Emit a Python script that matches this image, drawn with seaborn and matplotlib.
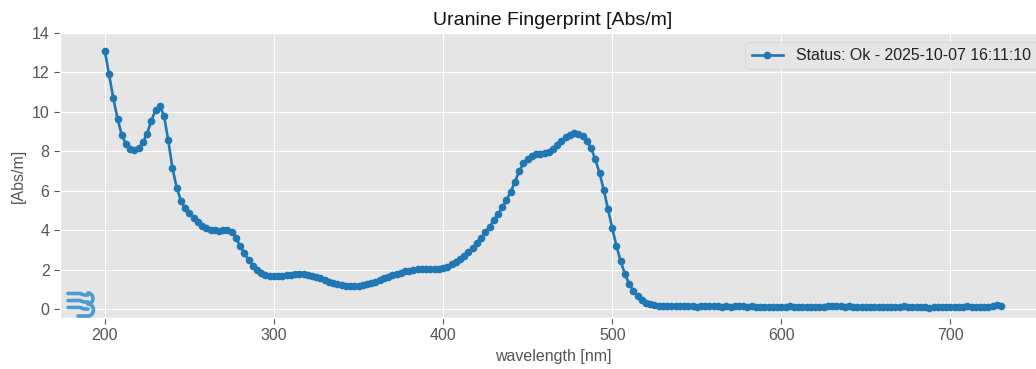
import numpy as np
import pandas as pd
import matplotlib
matplotlib.use("Agg")
import matplotlib.pyplot as plt
from matplotlib.lines import Line2D
import seaborn as sns

# ---- data ----
wl_start, wl_stop, wl_step = 200.0, 730.0, 2.5
wavelength = np.arange(wl_start, wl_stop + wl_step / 2, wl_step)

abs_200_272 = [13.1, 11.9, 10.7, 9.65, 8.85, 8.35, 8.1, 8.05, 8.15, 8.45,
               8.9, 9.55, 10.1, 10.3, 9.8, 8.55, 7.15, 6.15, 5.5, 5.1,
               4.85, 4.62, 4.42, 4.23, 4.1, 4.02, 3.98, 3.96, 3.98, 4.02]
abs_275_347 = [3.9, 3.6, 3.2, 2.82, 2.48, 2.2, 1.98, 1.82, 1.72, 1.68,
               1.66, 1.66, 1.67, 1.7, 1.73, 1.76, 1.77, 1.76, 1.73, 1.68,
               1.62, 1.55, 1.47, 1.39, 1.32, 1.26, 1.21, 1.18, 1.16, 1.16]
abs_350_422 = [1.18, 1.21, 1.26, 1.32, 1.39, 1.47, 1.55, 1.63, 1.7, 1.77,
               1.84, 1.9, 1.95, 1.99, 2.01, 2.02, 2.03, 2.04, 2.05, 2.05,
               2.07, 2.14, 2.27, 2.4, 2.53, 2.7, 2.88, 3.1, 3.36, 3.62]
abs_425_497 = [3.88, 4.17, 4.5, 4.82, 5.15, 5.52, 5.95, 6.45, 6.98, 7.38,
               7.62, 7.76, 7.84, 7.88, 7.92, 7.98, 8.1, 8.3, 8.52, 8.72,
               8.85, 8.92, 8.9, 8.76, 8.52, 8.15, 7.6, 6.9, 6.05, 5.08]
abs_500_572 = [4.1, 3.2, 2.42, 1.78, 1.28, 0.92, 0.64, 0.45, 0.32, 0.24,
               0.2, 0.17, 0.15, 0.14, 0.14, 0.13, 0.14, 0.13, 0.14, 0.13,
               0.12, 0.13, 0.14, 0.13, 0.14, 0.13, 0.12, 0.13, 0.12, 0.13]
abs_575_647 = [0.14, 0.13, 0.12, 0.13, 0.12, 0.11, 0.12, 0.11, 0.11, 0.12,
               0.11, 0.12, 0.13, 0.12, 0.11, 0.12, 0.1, 0.08, 0.09, 0.11,
               0.12, 0.13, 0.15, 0.14, 0.13, 0.12, 0.13, 0.12, 0.11, 0.12]
abs_650_722 = [0.11, 0.1, 0.08, 0.08, 0.09, 0.11, 0.12, 0.11, 0.12, 0.13,
               0.12, 0.11, 0.1, 0.09, 0.08, 0.07, 0.08, 0.09, 0.1, 0.11,
               0.11, 0.12, 0.11, 0.12, 0.13, 0.12, 0.11, 0.1, 0.09, 0.08]
abs_725_730 = [0.15, 0.18, 0.14]

absorbance = (abs_200_272 + abs_275_347 + abs_350_422 + abs_425_497 +
              abs_500_572 + abs_575_647 + abs_650_722 + abs_725_730)

series_label = "Status: Ok - 2025-10-07 16:11:10"
title = "Uranine Fingerprint [Abs/m]"
x_label = "wavelength [nm]"
y_label = "[Abs/m]"
x_ticks = [200, 300, 400, 500, 600, 700]
y_ticks = [0, 2, 4, 6, 8, 10, 12, 14]

df = pd.DataFrame({"wavelength": wavelength, "absorbance": absorbance})

# ---- style ----
plt.style.use("ggplot")
plt.rcParams["font.family"] = ["Liberation Sans", "DejaVu Sans"]

fig = plt.figure(figsize=(10.36, 3.69), dpi=100)
ax = fig.add_axes([60 / 1036, 51 / 369, 986 / 1036, 285 / 369])

sns.lineplot(data=df, x="wavelength", y="absorbance", ax=ax,
             color="#1f77b4", marker="o", markersize=5.5, markeredgewidth=0,
             linewidth=1.9, label=series_label)

ax.set_xlim(173.5, 756.5)
ax.set_ylim(-0.46, 14.0)
ax.set_xticks(x_ticks)
ax.set_yticks(y_ticks)
ax.tick_params(labelsize=11.5, colors="#555555", length=4)
ax.set_xlabel(x_label, fontsize=11.5, color="#555555")
ax.set_ylabel(y_label, fontsize=11.5, color="#555555")
ax.set_title(title, fontsize=14, color="#111111", pad=6)

leg = ax.legend(loc="upper right", fontsize=11.4, framealpha=0.8,
                borderaxespad=0.55)
leg.get_frame().set_edgecolor("#cccccc")
for t in leg.get_texts():
    t.set_color("#222222")

# ---- small logo (bottom-left corner) ----
logo_c = "#4a9ad6"
H = 369.0
def fx(px):
    return px / 1036.0
def fy(py):
    return (H - py) / H
for yy in (293.5, 300.5, 307.5):
    fig.add_artist(Line2D([fx(68), fx(80), fx(84), fx(88)],
                          [fy(yy), fy(yy), fy(yy + 1.5), fy(yy + 1.5)],
                          color=logo_c, lw=2.6, solid_capstyle="round"))
th = np.linspace(-np.pi / 2, np.pi / 2, 20)
for cy, r in ((298.5, 5.5), (310.0, 6.0)):
    fig.add_artist(Line2D(fx(88 + r * 0.9 * np.cos(th)),
                          fy(cy - r * np.sin(th)),
                          color=logo_c, lw=2.6, solid_capstyle="round"))
fig.add_artist(Line2D([fx(78), fx(88)], [fy(316), fy(316)],
                      color=logo_c, lw=2.6, solid_capstyle="round"))

fig.savefig("out.png", dpi=100)
